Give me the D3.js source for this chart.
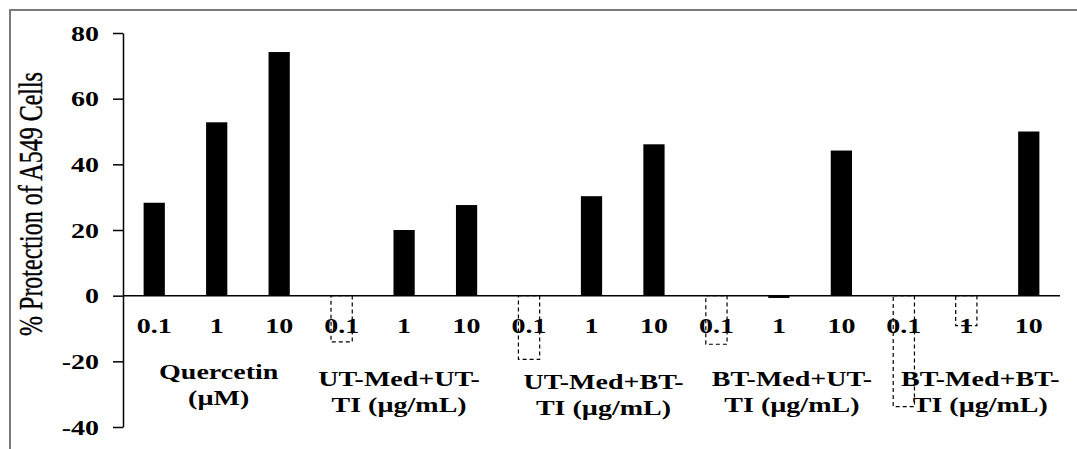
<!DOCTYPE html>
<html>
<head>
<meta charset="utf-8">
<script src="https://cdn.jsdelivr.net/npm/d3@7"></script>
<style>
	body { margin: 0; background: #fff; }
	text { font-family: "Liberation Serif", "Times New Roman", serif; }
</style>
</head>
<body>
<svg width="1077" height="449"></svg>
<script>
'use strict';
// chart data
let aDoses = ["0.1", "1", "10"]
let aGroups = [
	["Quercetin", "(\u00b5M)"],
	["UT-Med+UT-", "TI (\u00b5g/mL)"],
	["UT-Med+BT-", "TI (\u00b5g/mL)"],
	["BT-Med+UT-", "TI (\u00b5g/mL)"],
	["BT-Med+BT-", "TI (\u00b5g/mL)"]]
let aValues = [
	28.3, 52.8, 74.2,
	-14.1, 20.0, 27.6,
	-19.4, 30.3, 46.1,
	-14.8, -0.7, 44.2,
	-33.8, -9.1, 50.0]
let aYTicks = [-40, -20, 0, 20, 40, 60, 80]

// layout
let eSvg = d3.select("svg")
let dSx = 1.4 // the picture is stretched sideways
let aGroupDx = [2, -5, 12, 13, 14]
let aGroupY = [379, 386, 389, 386, 386]

let tData = aValues.map((v, i) => {
	return {key: i, dose: aDoses[i % 3], group: Math.floor(i / 3), value: v}})

let x = d3.scaleBand()
	.domain(tData.map(d => d.key))
	.range([123, 1060])
	.paddingInner(0.66).paddingOuter(0.33)

let y = d3.scaleLinear().domain([-40, 80]).range([427, 33])

// outer frame (top and left only)
eSvg.append("path")
	.attr("d", "M10,449V10H1077")
	.attr("fill", "none").attr("stroke", "#7a7a7a").attr("stroke-width", 2)

// bars
eSvg.append("g").selectAll("rect")
	.data(tData)
	.join("rect")
	.attr("x", d => x(d.key))
	.attr("width", x.bandwidth())
	.attr("y", d => y(Math.max(0, d.value)))
	.attr("height", d => Math.abs(y(d.value) - y(0)))
	.attr("fill", d => d.value < -1 ? "#fff" : "#000")
	.attr("stroke", "#000")
	.attr("stroke-width", d => d.value < -1 ? 1.2 : 0)
	.attr("stroke-dasharray", d => d.value < -1 ? "4,3" : null)

// y axis
let gY = eSvg.append("g")
	.attr("transform", "translate(123,0)")
	.call(d3.axisLeft(y).tickValues(aYTicks).tickSize(10).tickPadding(14)
		.tickSizeOuter(0).tickFormat(d => String(d)))
gY.select(".domain").attr("stroke", "#000").attr("stroke-width", 1.5)
gY.selectAll(".tick line").attr("stroke", "#000").attr("stroke-width", 1.5)
gY.selectAll(".tick text")
	.attr("font-weight", "bold")
	.attr("font-size", 20).attr("fill", "#000")
	.attr("x", null).attr("dy", null)
	.attr("transform", `translate(-24,7) scale(${dSx},1)`)

// zero line
eSvg.append("line")
	.attr("x1", 123).attr("x2", 1060)
	.attr("y1", y(0)).attr("y2", y(0))
	.attr("stroke", "#000").attr("stroke-width", 1.5)

// dose labels, drawn after bars so they sit over the dashed boxes
eSvg.append("g").selectAll("text")
	.data(tData)
	.join("text")
	.attr("transform", d => `translate(${x(d.key) + x.bandwidth() / 2},333) scale(${dSx},1)`)
	.attr("text-anchor", "middle")
	.attr("font-weight", "bold").attr("font-size", 20)
	.text(d => d.dose)

// group labels
let eGroups = eSvg.append("g").selectAll("g")
	.data(aGroups)
	.join("g")
	.attr("transform", (d, i) => {
		let cx = (x(i * 3) + x(i * 3 + 2) + x.bandwidth()) / 2 + aGroupDx[i]
		return `translate(${cx},${aGroupY[i]})`})
eGroups.selectAll("text")
	.data(d => d)
	.join("text")
	.attr("transform", (d, j) => `translate(0,${j * 25.5}) scale(${dSx},1)`)
	.attr("text-anchor", "middle")
	.attr("font-weight", "bold").attr("font-size", 20)
	.text(d => d)

// y title
eSvg.append("text")
	.attr("transform", `translate(42,204) rotate(-90) scale(1,${dSx})`)
	.attr("text-anchor", "middle")
	.attr("font-size", 24)
	.attr("stroke", "#000").attr("stroke-width", 0.3)
	.text("% Protection of A549 Cells")
</script>
</body>
</html>
